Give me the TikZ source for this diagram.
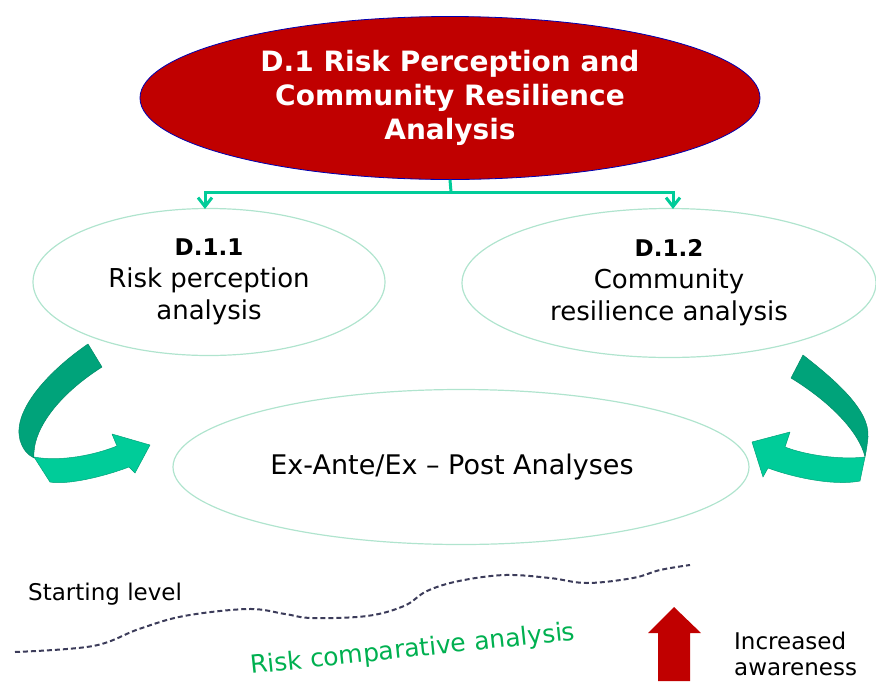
\documentclass[tikz,border=0pt]{standalone}
\usepackage{fontspec}
\setmainfont{DejaVu Sans}
\usetikzlibrary{shapes.geometric,arrows.meta}
\definecolor{dred}{HTML}{C00000}
\definecolor{teal1}{HTML}{00CC99}
\definecolor{teal2}{HTML}{00A37A}
\definecolor{ellb}{HTML}{B0E4CE}
\definecolor{rgreen}{HTML}{00B050}
\definecolor{dashc}{HTML}{3C3C5A}
\begin{document}
\begin{tikzpicture}[x=1pt,y=-1pt,
  sub/.style={ellipse, draw=ellb, line width=1.2pt, inner sep=0pt, align=center,
    font=\fontsize{26}{32}\selectfont},
  conn/.style={draw=teal1, line width=3pt, -{Straight Barb[length=9pt,width=14pt]}},
  lite/.style={fill=teal1, draw=teal1!80!black, line width=0.5pt, line join=round},
  dark/.style={fill=teal2, draw=teal2!85!black, line width=0.5pt, line join=round},
  small/.style={font=\fontsize{23}{26}\selectfont}]
\useasboundingbox (0,0) rectangle (876,681);

% top ellipse
\node[ellipse, fill=dred, draw=blue!70!black, line width=0.8pt, minimum width=620pt,
  minimum height=163pt, inner sep=0pt, text=white, align=center,
  font=\bfseries\fontsize{28}{34}\selectfont] (top) at (450,98)
  {D.1 Risk Perception and\\Community Resilience\\Analysis};

% sub ellipses
\node[sub, minimum width=352pt, minimum height=147pt] (a1) at (209,282)
  {\textbf{\fontsize{23}{32}\selectfont D.1.1}\\Risk perception\\analysis};
\node[sub, minimum width=414pt, minimum height=149pt] (a2) at (669,283)
  {\textbf{\fontsize{23}{32}\selectfont D.1.2}\\Community\\resilience analysis};
\node[sub, minimum width=576pt, minimum height=155pt, font=\fontsize{27}{32}\selectfont] (c) at (461,467)
  {Ex-Ante/Ex -- Post Analyses\hspace*{18pt}};

% connectors
\coordinate (j) at (451,192);
\coordinate (t1) at (205,209);
\coordinate (t2) at (673,209);
\draw[teal1, line width=3pt] (top.south) -- (j);
\draw[conn] (j) -| (t1);
\draw[conn] (j) -| (t2);

% left curved arrow
\path[dark] (88,344) .. controls (50,370) and (12,410) .. (20,440)
  .. controls (23,450) and (28,455) .. (34,458)
  .. controls (32,430) and (58,395) .. (102,367) -- cycle;
\path[lite] (34,457) .. controls (60,462) and (95,455) .. (117,446)
  -- (112,434) -- (150,445) -- (135,473) -- (129,467)
  .. controls (100,478) and (65,485) .. (50,482) -- cycle;

% right curved arrow
\path[dark] (803,355) .. controls (835,380) and (870,410) .. (868,437)
  .. controls (867,447) and (866,452) .. (865,457)
  .. controls (860,435) and (835,405) .. (791,378) -- cycle;
\path[lite] (865,457) .. controls (840,460) and (805,455) .. (785,447)
  -- (790,432) -- (752,442) -- (763,477) -- (768,468)
  .. controls (795,478) and (835,486) .. (860,481) -- cycle;

% bottom
\draw[dashc, line width=2pt, dash pattern=on 5pt off 3pt] plot[smooth, tension=0.6]
  coordinates {(15,652) (93,646) (139,629) (184,616) (248,609) (285,614) (312,618)
  (367,616) (404,606) (427,591) (459,581) (505,575) (550,578) (587,583) (633,578)
  (660,570) (690,565)};
\node[small, anchor=base west, inner sep=0pt] (sl) at (28,600) {Starting level};
\node[rgreen, rotate=6, inner sep=0pt, font=\fontsize{25}{30}\selectfont] (rca) at (413,650)
  {Risk comparative analysis};
\fill[dred] (658,681) -- (658,633) -- (648,633) -- (674,607) -- (701,633)
  -- (690,633) -- (690,681) -- cycle;
\node[small, anchor=north west, align=left, inner sep=0pt] (ia) at (734,632)
  {Increased\\awareness};
\end{tikzpicture}
\end{document}
